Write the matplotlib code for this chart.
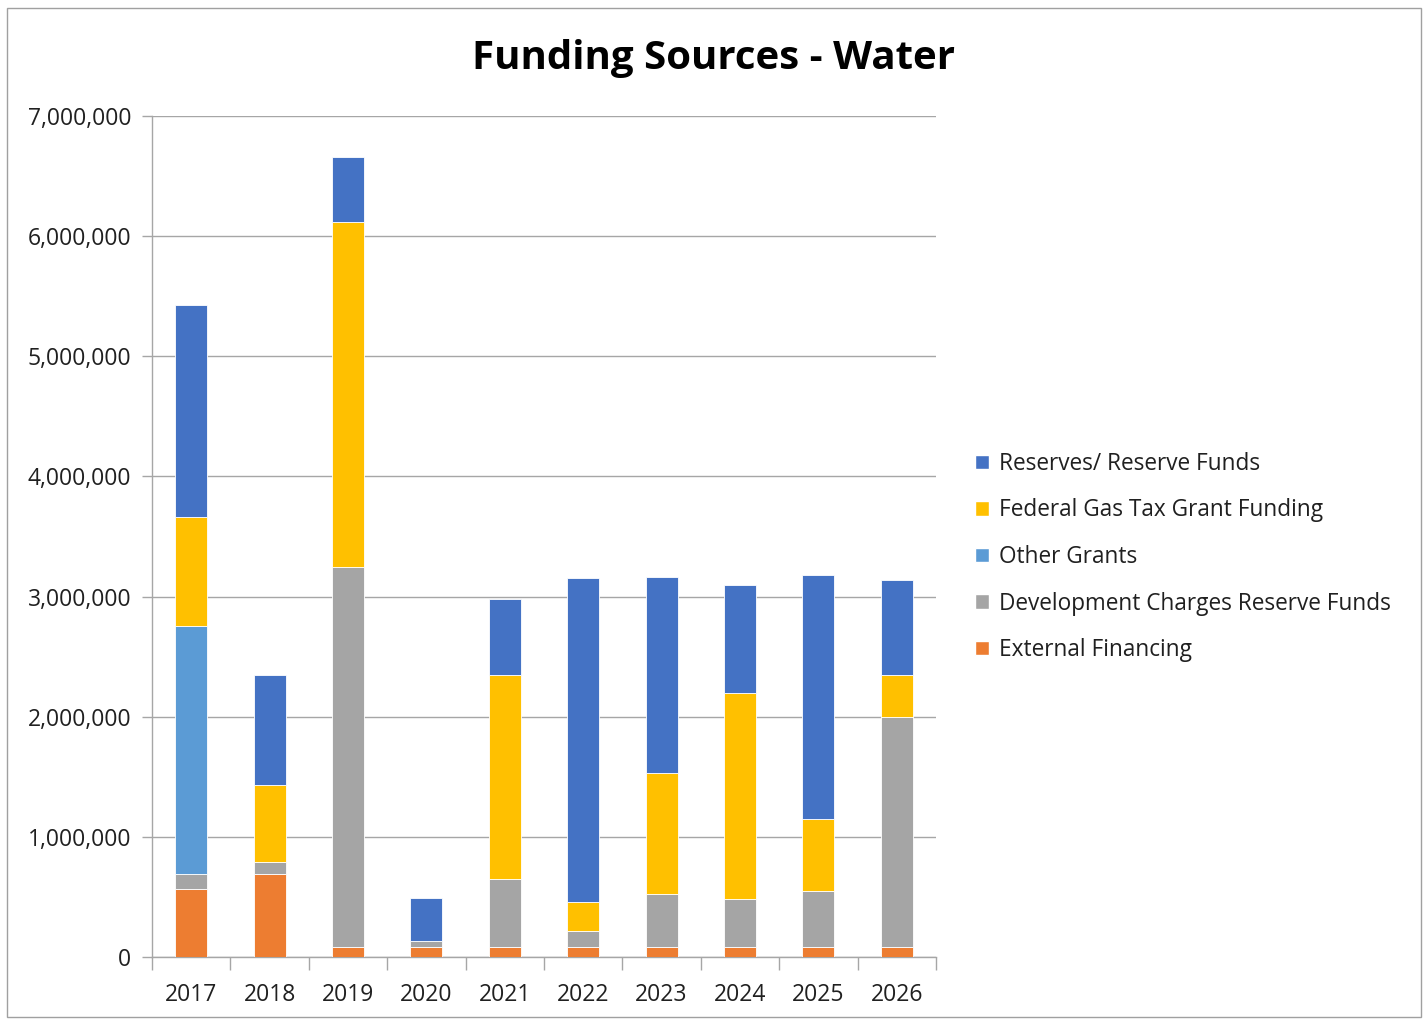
import matplotlib
matplotlib.use("Agg")
import matplotlib.pyplot as plt
from matplotlib.patches import Patch, Rectangle
from matplotlib.ticker import FuncFormatter, FixedLocator
import numpy as np

years = ["2017", "2018", "2019", "2020", "2021", "2022", "2023", "2024", "2025", "2026"]
external_financing = [566000, 690000, 80000, 80000, 80000, 80000, 80000, 80000, 80000, 80000]
dev_charges = [125000, 103000, 3168000, 50000, 569000, 134000, 447000, 403000, 467000, 1918000]
other_grants = [2065000, 0, 0, 0, 0, 0, 0, 0, 0, 0]
gas_tax = [907000, 639000, 2872000, 0, 1698000, 246000, 1005000, 1714000, 602000, 349000]
reserves = [1765000, 915000, 541000, 361000, 633000, 2695000, 1631000, 899000, 2031000, 791000]

series = [
    ("External Financing", external_financing, "#ED7D31"),
    ("Development Charges Reserve Funds", dev_charges, "#A5A5A5"),
    ("Other Grants", other_grants, "#5B9BD5"),
    ("Federal Gas Tax Grant Funding", gas_tax, "#FFC000"),
    ("Reserves/ Reserve Funds", reserves, "#4472C4"),
]

plt.rcParams['font.family'] = ['Open Sans', 'DejaVu Sans']

W, H = 1428, 1019
fig = plt.figure(figsize=(W / 100, H / 100), dpi=100)
fig.patch.set_facecolor("white")
fig.add_artist(Rectangle((7 / W, 2 / H), (1421 - 7) / W, (1017 - 8) / H,
                         transform=fig.transFigure, fill=False,
                         edgecolor="#A0A0A0", linewidth=1))

ax = fig.add_axes([152 / W, (H - 957) / H, 784 / W, 841 / H])
x = np.arange(len(years))
bottom = np.zeros(len(years))
handles = []
for name, vals, color in series:
    v = np.array(vals, dtype=float)
    ax.bar(x, v, width=0.41, bottom=bottom, color=color, edgecolor="white",
           linewidth=0.6, zorder=3)
    bottom += v
    handles.append(Patch(facecolor=color, edgecolor="white", label=name))

ax.set_xlim(-0.5, len(years) - 0.5)
ax.set_ylim(0, 7000000)
ax.set_yticks(np.arange(0, 7000001, 1000000))
ax.yaxis.set_major_formatter(FuncFormatter(lambda v, p: f"{int(v):,}"))
ax.yaxis.grid(True, color="#A6A6A6", linewidth=1, zorder=0)
ax.set_axisbelow(True)

ax.set_xticks(x)
ax.set_xticklabels(years)
ax.xaxis.set_minor_locator(FixedLocator(np.arange(-0.5, len(years), 1.0)))
ax.tick_params(axis="x", which="major", length=0, pad=19, labelsize=16.5)
ax.tick_params(axis="x", which="minor", length=9, color="#A6A6A6", width=1)
ax.tick_params(axis="y", which="major", length=7, color="#A6A6A6", width=1,
               labelsize=16.5, pad=8)
for lbl in ax.get_xticklabels():
    lbl.set_color("#202020")
for lbl in ax.get_yticklabels():
    lbl.set_color("#202020")

for s in ["top", "right"]:
    ax.spines[s].set_visible(False)
for s in ["left", "bottom"]:
    ax.spines[s].set_color("#A6A6A6")
    ax.spines[s].set_linewidth(1)

fig.text(713 / W, 1 - 58 / H, "Funding Sources - Water", ha="center", va="center",
         fontsize=29, fontweight="bold", color="black")

leg = fig.legend(handles=handles[::-1], loc="center left",
                 bbox_to_anchor=(955 / W, 1 - 557 / H), frameon=False,
                 fontsize=16.3, handlelength=0.6, handleheight=0.6,
                 handletextpad=0.45, labelspacing=1.0)
for t in leg.get_texts():
    t.set_color("#202020")

fig.savefig("out.png", dpi=100, facecolor="white")
